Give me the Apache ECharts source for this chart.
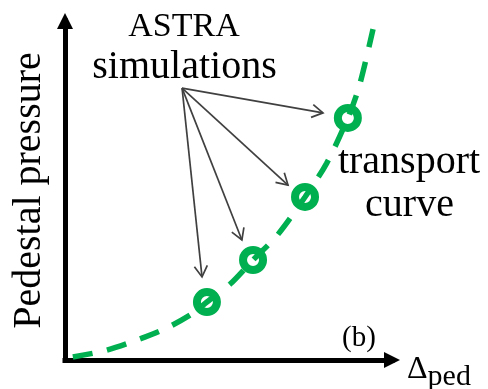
<!DOCTYPE html>
<html><head><meta charset="utf-8">
<script src="https://cdn.jsdelivr.net/npm/echarts@6/dist/echarts.min.js"></script>
<style>html,body{margin:0;padding:0;background:#fff}#c{width:488px;height:389px}</style>
</head><body><div id="c"></div>
<script>
// transport curve (arbitrary units)
const curveX = [0.24, 1.2, 2.2, 3.1, 3.9, 4.34, 5.05, 5.75, 6.5, 7.34, 8.0, 8.65, 9.0, 9.42];
const curveY = [0.09, 0.27, 0.59, 0.94, 1.37, 1.71, 2.24, 2.95, 3.69, 4.81, 5.80, 7.14, 8.08, 9.76];
// ASTRA simulation points
const simX = [4.34, 5.75, 7.34, 8.65];
const simY = [1.71, 2.95, 4.81, 7.14];
// annotation arrows: common start, individual tips
const arrowFrom = [3.58, 8.02];
const arrowToX = [7.89, 6.82, 5.41, 4.19];
const arrowToY = [7.29, 5.16, 3.54, 2.45];

const GREEN = '#00B050';
const FONT = 'Liberation Serif';

const chart = echarts.init(document.getElementById('c'), null, {renderer: 'canvas'});
const axisCommon = {
  type: 'value', min: 0, max: 10,
  axisTick: {show: false}, axisLabel: {show: false}, splitLine: {show: false},
  axisLine: {show: true, symbol: ['none', 'triangle'], symbolSize: [16, 16],
    lineStyle: {color: '#000', width: 5, cap: 'square'}}
};
function txt(x, y, s, size) {
  return {type: 'text', x: x, y: y, silent: true,
    style: {text: s, fontSize: size, fontFamily: FONT, fill: '#000', align: 'center', verticalAlign: 'middle'}};
}
chart.setOption({
  animation: false,
  backgroundColor: '#fff',
  grid: {left: 65, right: 96, top: 21, bottom: 29, containLabel: false, outerBoundsMode: 'none'},
  xAxis: Object.assign({}, axisCommon, {
    name: '{d|Δ}{s|ped}', nameLocation: 'end', nameGap: 15,
    nameTextStyle: {padding: [20, 0, 0, 0], align: 'left', verticalAlign: 'middle',
      rich: {
        d: {fontSize: 32, fontFamily: FONT, color: '#000'},
        s: {fontSize: 30, fontFamily: FONT, color: '#000', padding: [14, 0, 0, 0]}
      }}
  }),
  yAxis: Object.assign({}, axisCommon, {
    name: 'Pedestal pressure', nameLocation: 'middle', nameGap: 16, nameRotate: 90,
    nameTextStyle: {fontSize: 40, fontFamily: FONT, color: '#000'}
  }),
  series: [
    {
      type: 'line', name: 'transport curve', silent: true, z: 3,
      data: curveX.map((x, i) => [x, curveY[i]]),
      smooth: 0.3, showSymbol: false, symbol: 'none',
      lineStyle: {color: GREEN, width: 5.5, type: [20, 15], dashOffset: 0, cap: 'butt'}
    },
    {
      type: 'scatter', name: 'ASTRA simulations', silent: true, z: 2,
      data: simX.map((x, i) => [x, simY[i]]),
      symbol: 'circle', symbolSize: 20,
      itemStyle: {color: 'rgba(255,255,255,0)', borderColor: GREEN, borderWidth: 8, opacity: 1}
    },
    {
      type: 'custom', name: 'arrows', silent: true, z: 4,
      data: arrowToX.map((x, i) => [arrowFrom[0], arrowFrom[1], x, arrowToY[i]]),
      renderItem: function (params, api) {
        const p0 = api.coord([api.value(0), api.value(1)]);
        const p1 = api.coord([api.value(2), api.value(3)]);
        const ang = Math.atan2(p1[1] - p0[1], p1[0] - p0[0]);
        const L = 11, W = 6.5;
        const bx = p1[0] - L * Math.cos(ang), by = p1[1] - L * Math.sin(ang);
        const nx = -Math.sin(ang), ny = Math.cos(ang);
        return {
          type: 'group', children: [
            {type: 'line', shape: {x1: p0[0], y1: p0[1], x2: p1[0], y2: p1[1]},
              style: {stroke: '#404040', lineWidth: 1.7, fill: 'none'}},
            {type: 'polyline', shape: {points: [[bx + nx * W, by + ny * W], [p1[0], p1[1]], [bx - nx * W, by - ny * W]]},
              style: {stroke: '#404040', lineWidth: 1.7, fill: 'none'}}
          ]
        };
      }
    }
  ],
  graphic: [
    txt(184, 27, 'ASTRA', 34),
    txt(184.5, 67, 'simulations', 40),
    txt(409, 162, 'transport', 40),
    txt(409.5, 205, 'curve', 40),
    txt(359, 338, '(b)', 29)
  ]
});
</script>
</body></html>
